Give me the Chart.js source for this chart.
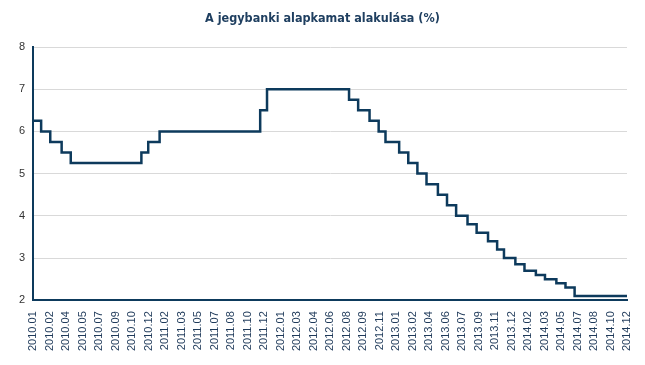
<!DOCTYPE html>
<html lang="hu">
<head>
  <meta charset="UTF-8" />
  <title>A jegybanki alapkamat alakulása</title>
  <script src="https://cdn.jsdelivr.net/npm/chart.js"></script>
  <style>
    html, body {
      margin: 0;
      padding: 0;
      background: #fff;
    }
    #wrap {
      width: 645px;
      height: 365px;
    }
  </style>
</head>
<body>
  <div id="wrap"><canvas id="rateChart"></canvas></div>

  <script>
    // kamatdöntések (dátum -> új alapkamat %)
    const changeDates = [
      '2010-01-01', '2010-01-26', '2010-02-23', '2010-03-30', '2010-04-27',
      '2010-11-30', '2010-12-21', '2011-01-25', '2011-11-30', '2011-12-21',
      '2012-08-29', '2012-09-26', '2012-10-31', '2012-11-28', '2012-12-19',
      '2013-01-30', '2013-02-27', '2013-03-27', '2013-04-24', '2013-05-29',
      '2013-06-26', '2013-07-24', '2013-08-28', '2013-09-25', '2013-10-30',
      '2013-11-27', '2013-12-18', '2014-01-22', '2014-02-19', '2014-03-26',
      '2014-04-23', '2014-05-28', '2014-06-25', '2014-07-23', '2014-12-31'
    ];
    const rateValues = [
      6.25, 6.00, 5.75, 5.50, 5.25,
      5.50, 5.75, 6.00, 6.50, 7.00,
      6.75, 6.50, 6.25, 6.00, 5.75,
      5.50, 5.25, 5.00, 4.75, 4.50,
      4.25, 4.00, 3.80, 3.60, 3.40,
      3.20, 3.00, 2.85, 2.70, 2.60,
      2.50, 2.40, 2.30, 2.10, 2.10
    ];
    const tickLabels = [
      '2010.01', '2010.02', '2010.04', '2010.05', '2010.07', '2010.09', '2010.10', '2010.12',
      '2011.02', '2011.03', '2011.05', '2011.07', '2011.08', '2011.10', '2011.12',
      '2012.01', '2012.03', '2012.04', '2012.06', '2012.08', '2012.09', '2012.11',
      '2013.01', '2013.02', '2013.04', '2013.06', '2013.07', '2013.09', '2013.11', '2013.12',
      '2014.02', '2014.03', '2014.05', '2014.07', '2014.08', '2014.10', '2014.12'
    ];

    const DAY = 86400000;
    const start = Date.parse(changeDates[0]);
    const toDay = d => (Date.parse(d) - start) / DAY;
    const lastDay = toDay(changeDates[changeDates.length - 1]);

    const points = changeDates.map((d, i) => ({ x: toDay(d), y: rateValues[i] }));

    const navy = '#0d3a5c';
    const textColor = '#1f3a5a';

    const ctx = document.getElementById('rateChart').getContext('2d');
    new Chart(ctx, {
      type: 'line',
      data: {
        datasets: [{
          data: points,
          borderColor: navy,
          borderWidth: 2.5,
          pointRadius: 0,
          stepped: true,
          fill: false
        }]
      },
      options: {
        responsive: true,
        maintainAspectRatio: false,
        animation: false,
        layout: { padding: { left: 0, right: 0, top: 0, bottom: 11 } },
        plugins: {
          legend: { display: false },
          tooltip: { enabled: false },
          title: {
            display: true,
            text: 'A jegybanki alapkamat alakulása (%)',
            color: '#1f3f60',
            font: { family: "'DejaVu Sans Condensed', sans-serif", size: 12.5, weight: 'bold' },
            padding: { top: 11, bottom: 21 }
          }
        },
        scales: {
          x: {
            type: 'linear',
            min: 0,
            max: lastDay,
            afterBuildTicks: axis => {
              axis.ticks = tickLabels.map((l, i) => ({ value: i * lastDay / (tickLabels.length - 1) }));
            },
            ticks: {
              autoSkip: false,
              minRotation: 90,
              maxRotation: 90,
              color: textColor,
              font: { family: 'Liberation Sans', size: 11 },
              padding: 3,
              callback: (v, i) => tickLabels[i]
            },
            grid: { display: false },
            border: { color: navy, width: 2 }
          },
          y: {
            min: 2,
            max: 8,
            afterFit: s => { s.width = 33; },
            ticks: {
              stepSize: 1,
              color: '#333333',
              font: { family: 'Liberation Sans', size: 11 },
              padding: 8
            },
            grid: { color: '#d9d9d9', drawTicks: false },
            border: { color: navy, width: 2 }
          },
          // üres jobb oldali sáv, hogy a cím középre kerüljön
          yRight: {
            position: 'right',
            afterFit: s => { s.width = 18; },
            ticks: { display: false },
            grid: { display: false, drawTicks: false },
            border: { display: false }
          }
        }
      }
    });
  </script>
</body>
</html>
